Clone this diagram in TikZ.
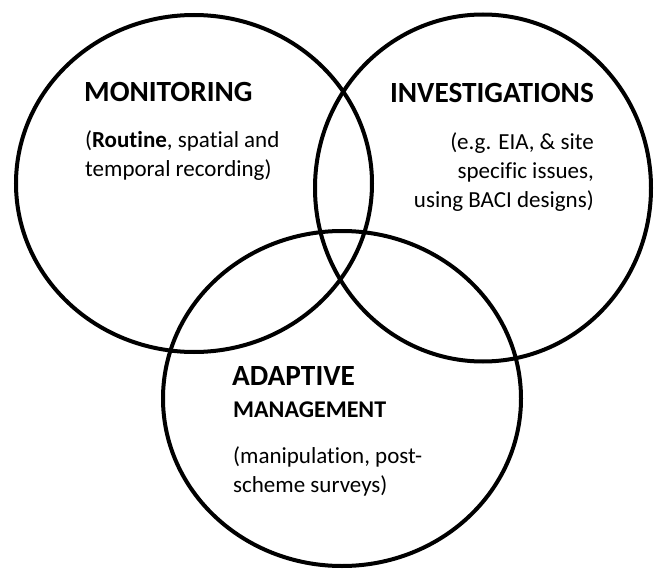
\documentclass[tikz,border=0pt]{standalone}
\usepackage{fontspec}
\setmainfont[Ligatures=NoCommon]{Carlito}
\begin{document}
\begin{tikzpicture}[x=1pt,y=-1pt,
  ring/.style={line width=4pt, draw=black},
  head/.style={font=\bfseries\fontsize{29.3}{35}\selectfont, inner sep=0pt},
  subhead/.style={font=\bfseries\fontsize{24}{29}\selectfont, inner sep=0pt},
  body/.style={font=\fontsize{23}{29}\selectfont, inner sep=0pt}]
\useasboundingbox (0,0) rectangle (654,570);
\fill[white] (0,0) rectangle (654,570);

% the three overlapping rings
\draw[ring] (194,183.5) ellipse [x radius=178pt, y radius=168.5pt];
\draw[ring] (483,188) ellipse [x radius=168pt, y radius=173.5pt];
\draw[ring] (342,398.5) ellipse [x radius=179pt, y radius=167.5pt];

% monitoring
\node[head, anchor=base west] (monT) at (84,101) {MONITORING};
\node[body, anchor=base west] (monA) at (85,147) {(\textbf{Routine}, spatial and};
\node[body, anchor=base west] (monB) at (85,176) {temporal recording)};

% investigations
\node[head, anchor=base east] (invT) at (594,102) {INVESTIGATIONS};
\node[body, anchor=base east] (invA) at (594,149) {(e.g. EIA, \& site};
\node[body, anchor=base east] (invB) at (594,178) {specific issues,};
\node[body, anchor=base east] (invC) at (594,207) {using BACI designs)};

% adaptive management
\node[head, anchor=base west] (adaT) at (232,385) {ADAPTIVE};
\node[subhead, anchor=base west] (adaM) at (233,417) {MANAGEMENT};
\node[body, anchor=base west] (adaA) at (233,463) {(manipulation, post-};
\node[body, anchor=base west] (adaB) at (233,492) {scheme surveys)};
\end{tikzpicture}
\end{document}
